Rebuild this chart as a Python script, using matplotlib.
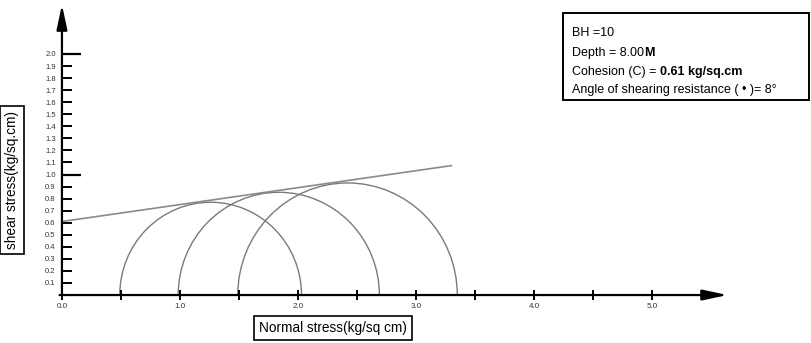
import numpy as np
import matplotlib.pyplot as plt
from matplotlib.patches import Arc, Rectangle
from matplotlib.ticker import FixedLocator, FormatStrFormatter, NullFormatter

plt.rcParams['font.family'] = ['Liberation Sans', 'DejaVu Sans']

# Mohr circles (kg/sq.cm)
sigma3 = [0.49, 0.985, 1.49]
sigma1 = [2.03, 2.69, 3.35]

# failure envelope
cohesion = 0.61
phi_deg = 8
env_sigma = [0.0, 3.3]

x_major = [0, 1, 2, 3, 4, 5]
x_minor = [0.5, 1.5, 2.5, 3.5, 4.5]
y_major = [1.0, 2.0]
y_minor = [round(0.1 * k, 1) for k in range(1, 21)]

# info box lines: (normal part, bold part)
info_lines = [
    ("BH =10", ""),
    ("Depth = 8.00", "M"),
    ("Cohesion (C) = ", "0.61 kg/sq.cm"),
    ("Angle of shearing resistance ( \u2022 )= 8\u00b0", ""),
]

fig = plt.figure(figsize=(8.12, 3.43), dpi=100)
ax = fig.add_axes([0, 0, 1, 1])
ax.set_xlim(-0.525, 6.356)
ax.set_ylim(-0.398, 2.448)

for s in ax.spines.values():
    s.set_visible(False)
ax.spines['left'].set_position(('data', 0))
ax.spines['bottom'].set_position(('data', 0))

# axes with arrow heads
arrow = dict(arrowstyle='-|>,head_length=1.5,head_width=0.32', lw=1.6, color='black',
             shrinkA=0, shrinkB=0)
ax.annotate('', xy=(0, 2.41), xytext=(0, 0), arrowprops=arrow)
ax.annotate('', xy=(5.64, 0), xytext=(-0.02, 0), arrowprops=arrow)

# y ticks (inside, to the right of the axis)
ax.yaxis.set_major_locator(FixedLocator(y_major))
ax.yaxis.set_minor_locator(FixedLocator(y_minor))
ax.yaxis.set_major_formatter(FormatStrFormatter('%.1f'))
ax.yaxis.set_minor_formatter(FormatStrFormatter('%.1f'))
ax.tick_params(axis='y', which='major', direction='in', length=14, width=1.6,
               labelsize=5.5, pad=4.5, labelcolor='#333333')
ax.tick_params(axis='y', which='minor', direction='in', length=7, width=1.4,
               labelsize=5.5, pad=4.5, labelcolor='#333333')

# x ticks (crossing the axis)
ax.xaxis.set_major_locator(FixedLocator(x_major))
ax.xaxis.set_minor_locator(FixedLocator(x_minor))
ax.xaxis.set_major_formatter(FormatStrFormatter('%.1f'))
ax.xaxis.set_minor_formatter(NullFormatter())
ax.tick_params(axis='x', which='both', direction='inout', length=7, width=1.4,
               labelsize=5.8, pad=2, labelcolor='#333333')

# Mohr circles
for s3, s1 in zip(sigma3, sigma1):
    c = (s1 + s3) / 2
    d = s1 - s3
    ax.add_patch(Arc((c, 0), d, d, theta1=0, theta2=180, color='#7a7a7a', lw=1.0))

# envelope
env_sigma = np.array(env_sigma)
env_tau = cohesion + env_sigma * np.tan(np.radians(phi_deg))
ax.plot(env_sigma, env_tau, color='#8a8a8a', lw=1.2)

# axis labels in boxes
box = dict(facecolor='white', edgecolor='black', linewidth=1.2, boxstyle='square,pad=0.35')
ax.text(0.410, 0.044, "Normal stress(kg/sq cm)", fontsize=9.8, ha='center', va='center',
        bbox=box, transform=ax.transAxes)
ax.text(0.0148, 0.475, "shear stress(kg/sq.cm)", fontsize=9.8, ha='center', va='center',
        rotation=90, bbox=box, transform=ax.transAxes)

# info box
ax.add_patch(Rectangle((0.693, 0.7085), 0.303, 0.2536, transform=ax.transAxes,
                       facecolor='white', edgecolor='black', lw=1.4, zorder=3))
ys = [36, 56, 75, 93]
for (normal, bold), yp in zip(info_lines, ys):
    t = ax.text(572 / 812, 1 - yp / 343, normal, fontsize=9.0, ha='left', va='baseline',
                transform=ax.transAxes, zorder=4)
    if bold:
        ax.annotate(bold, xy=(1, 0), xycoords=t, ha='left', va='bottom',
                    fontsize=9.0, fontweight='bold', zorder=4)

fig.savefig('out.png', dpi=100)
